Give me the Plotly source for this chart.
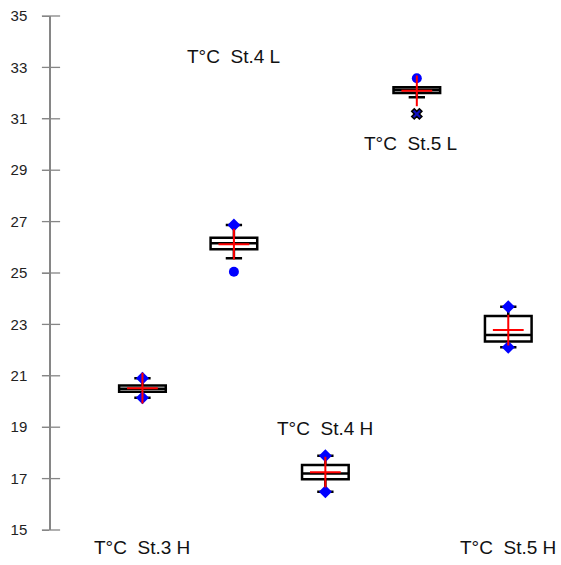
import plotly.graph_objects as go

# ---- data ----
categories = ["T°C  St.3 H", "T°C  St.4 L", "T°C  St.4 H", "T°C  St.5 L", "T°C  St.5 H"]
positions = [1, 2, 3, 4, 5]
q1 = [20.38, 25.92, 16.97, 32.00, 22.33]
median = [20.50, 26.16, 17.20, 32.12, 22.59]
q3 = [20.62, 26.37, 17.53, 32.23, 23.33]
lower_whisker = [20.15, 25.57, 16.49, 31.84, 22.11]
upper_whisker = [20.90, 26.87, 17.89, 32.23, 23.69]
means = [20.52, 26.12, 17.25, 32.09, 22.78]
minimums = [20.15, None, 16.49, None, 22.11]
maximums = [20.90, 26.87, 17.89, None, 23.69]
outlier_cat = [2, 4]
outlier_val = [25.05, 32.58]
extreme_cat = [4]
extreme_val = [31.19]
tick_values = [15, 17, 19, 21, 23, 25, 27, 29, 31, 33, 35]

# label placement (layout only, paper coordinates)
label_y = [-0.035, 0.922, 0.198, 0.751, -0.035]
label_dx = [0, 0, 0, -6, 0]

fig = go.Figure()

fig.add_trace(go.Box(
    x=positions, q1=q1, median=median, q3=q3,
    lowerfence=lower_whisker, upperfence=upper_whisker,
    width=0.51, whiskerwidth=0.35,
    line=dict(color="black", width=2.5), fillcolor="white",
    boxpoints=False, showlegend=False, hoverinfo="skip",
))

# min / max diamonds
mx, my = [], []
for p, a, b in zip(positions, minimums, maximums):
    for v in (a, b):
        if v is not None:
            mx.append(p); my.append(v)
fig.add_trace(go.Scatter(x=mx, y=my, mode="markers",
                         marker=dict(symbol="diamond", size=10, color="#0000ff"),
                         showlegend=False, cliponaxis=False))
# outliers
fig.add_trace(go.Scatter(x=outlier_cat, y=outlier_val, mode="markers",
                         marker=dict(symbol="circle", size=10, color="#0000ff"),
                         showlegend=False, cliponaxis=False))
fig.add_trace(go.Scatter(x=extreme_cat, y=extreme_val, mode="markers",
                         marker=dict(symbol="x", size=9, color="#1010c0",
                                     line=dict(color="black", width=1.5)),
                         showlegend=False, cliponaxis=False))
# means
fig.add_trace(go.Scatter(x=positions, y=means, mode="markers",
                         marker=dict(symbol="cross-thin", size=22,
                                     line=dict(color="red", width=2)),
                         showlegend=False, cliponaxis=False))
# inner half of the crossing y ticks
fig.add_trace(go.Scatter(x=[0] * len(tick_values), y=tick_values, mode="markers",
                         marker=dict(symbol="line-ew", size=13,
                                     line=dict(color="#868686", width=1.3)),
                         showlegend=False, cliponaxis=False, hoverinfo="skip"))

for p, name, ly, dx in zip(positions, categories, label_y, label_dx):
    fig.add_annotation(x=p, xref="x", y=ly, yref="paper", text=name, showarrow=False,
                       xshift=dx,
                       font=dict(family="Liberation Sans, Arial", size=19, color="#111"),
                       xanchor="center", yanchor="middle")

fig.update_layout(
    width=561, height=565,
    margin=dict(l=51, r=7, t=16, b=35),
    plot_bgcolor="white", paper_bgcolor="white",
    font=dict(family="Liberation Sans, Arial", size=15, color="#222"),
)
fig.update_xaxes(range=[0, 5.5], visible=False, showgrid=False, zeroline=False)
fig.update_yaxes(range=[15, 35], tickvals=tick_values, showgrid=False, zeroline=False,
                 showline=True, linecolor="#868686", linewidth=1.5,
                 ticks="outside", ticklen=7, tickcolor="#868686", tickwidth=1.3,
                 ticklabelstandoff=12)

fig.write_html("out.html", config={"displayModeBar": False},
               post_script="document.body.style.margin='0';")
